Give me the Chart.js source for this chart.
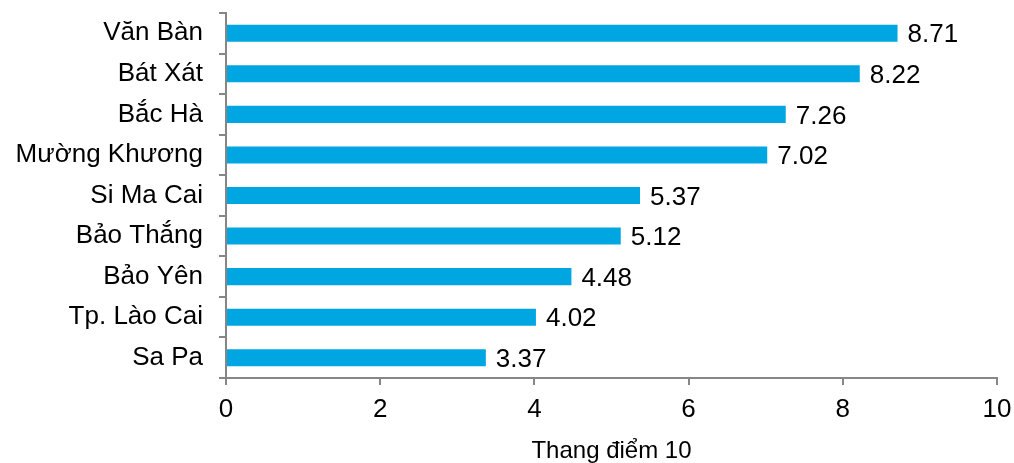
<!DOCTYPE html>
<html lang="vi">
<head>
  <meta charset="UTF-8" />
  <title>Thang điểm 10</title>
  <script src="https://cdn.jsdelivr.net/npm/chart.js"></script>
  <style>
    html, body { margin: 0; padding: 0; background: #fff; }
    #wrap { width: 1014px; height: 463px; }
  </style>
</head>
<body>
  <div id="wrap"><canvas id="scoreChart" width="1014" height="463"></canvas></div>

  <script>
    const districts = ["Văn Bàn", "Bát Xát", "Bắc Hà", "Mường Khương", "Si Ma Cai", "Bảo Thắng", "Bảo Yên", "Tp. Lào Cai", "Sa Pa"];
    const scores = [8.71, 8.22, 7.26, 7.02, 5.37, 5.12, 4.48, 4.02, 3.37];
    const xTicks = [0, 2, 4, 6, 8, 10];
    const axisTitle = "Thang điểm 10";

    const FONT = "'Liberation Sans', Arial, sans-serif";

    // value labels at the end of each bar
    const valueLabels = {
      id: 'valueLabels',
      afterDatasetsDraw(chart) {
        const ctx = chart.ctx;
        const meta = chart.getDatasetMeta(0);
        ctx.save();
        ctx.font = "26px " + FONT;
        ctx.fillStyle = '#000';
        ctx.textAlign = 'left';
        ctx.textBaseline = 'middle';
        meta.data.forEach((bar, i) => {
          ctx.fillText(scores[i].toFixed(2), bar.x + 10, bar.y + 2);
        });
        ctx.restore();
      }
    };

    new Chart(document.getElementById('scoreChart'), {
      type: 'bar',
      data: {
        labels: districts,
        datasets: [{
          data: scores,
          backgroundColor: '#00A6E2',
          borderWidth: 0,
          categoryPercentage: 1,
          barPercentage: 0.42
        }]
      },
      options: {
        indexAxis: 'y',
        responsive: false,
        animation: false,
        layout: { padding: { top: 13, right: 17, left: 0, bottom: 0 } },
        plugins: {
          legend: { display: false },
          tooltip: { enabled: false }
        },
        scales: {
          x: {
            min: 0,
            max: 10,
            afterBuildTicks: axis => { axis.ticks = xTicks.map(v => ({ value: v })); },
            afterFit: axis => { axis.height = 85; axis.paddingLeft = 0; axis.paddingRight = 0; },
            border: { color: '#868686', width: 2 },
            grid: { drawOnChartArea: false, drawTicks: true, tickLength: 7, color: '#868686', lineWidth: 2 },
            ticks: { color: '#000', font: { family: FONT, size: 26 }, padding: 9, maxRotation: 0 },
            title: { display: true, text: axisTitle, color: '#000', font: { family: FONT, size: 24 }, padding: { top: 0, bottom: -3 } }
          },
          y: {
            afterFit: axis => { axis.width = 226; axis.paddingTop = 0; axis.paddingBottom = 0; },
            border: { color: '#868686', width: 2 },
            grid: { drawOnChartArea: false, drawTicks: true, tickLength: 7, color: '#868686', lineWidth: 2, offset: true },
            ticks: { color: '#000', font: { family: FONT, size: 26 }, padding: 16 }
          }
        }
      },
      plugins: [valueLabels]
    });
  </script>
</body>
</html>
